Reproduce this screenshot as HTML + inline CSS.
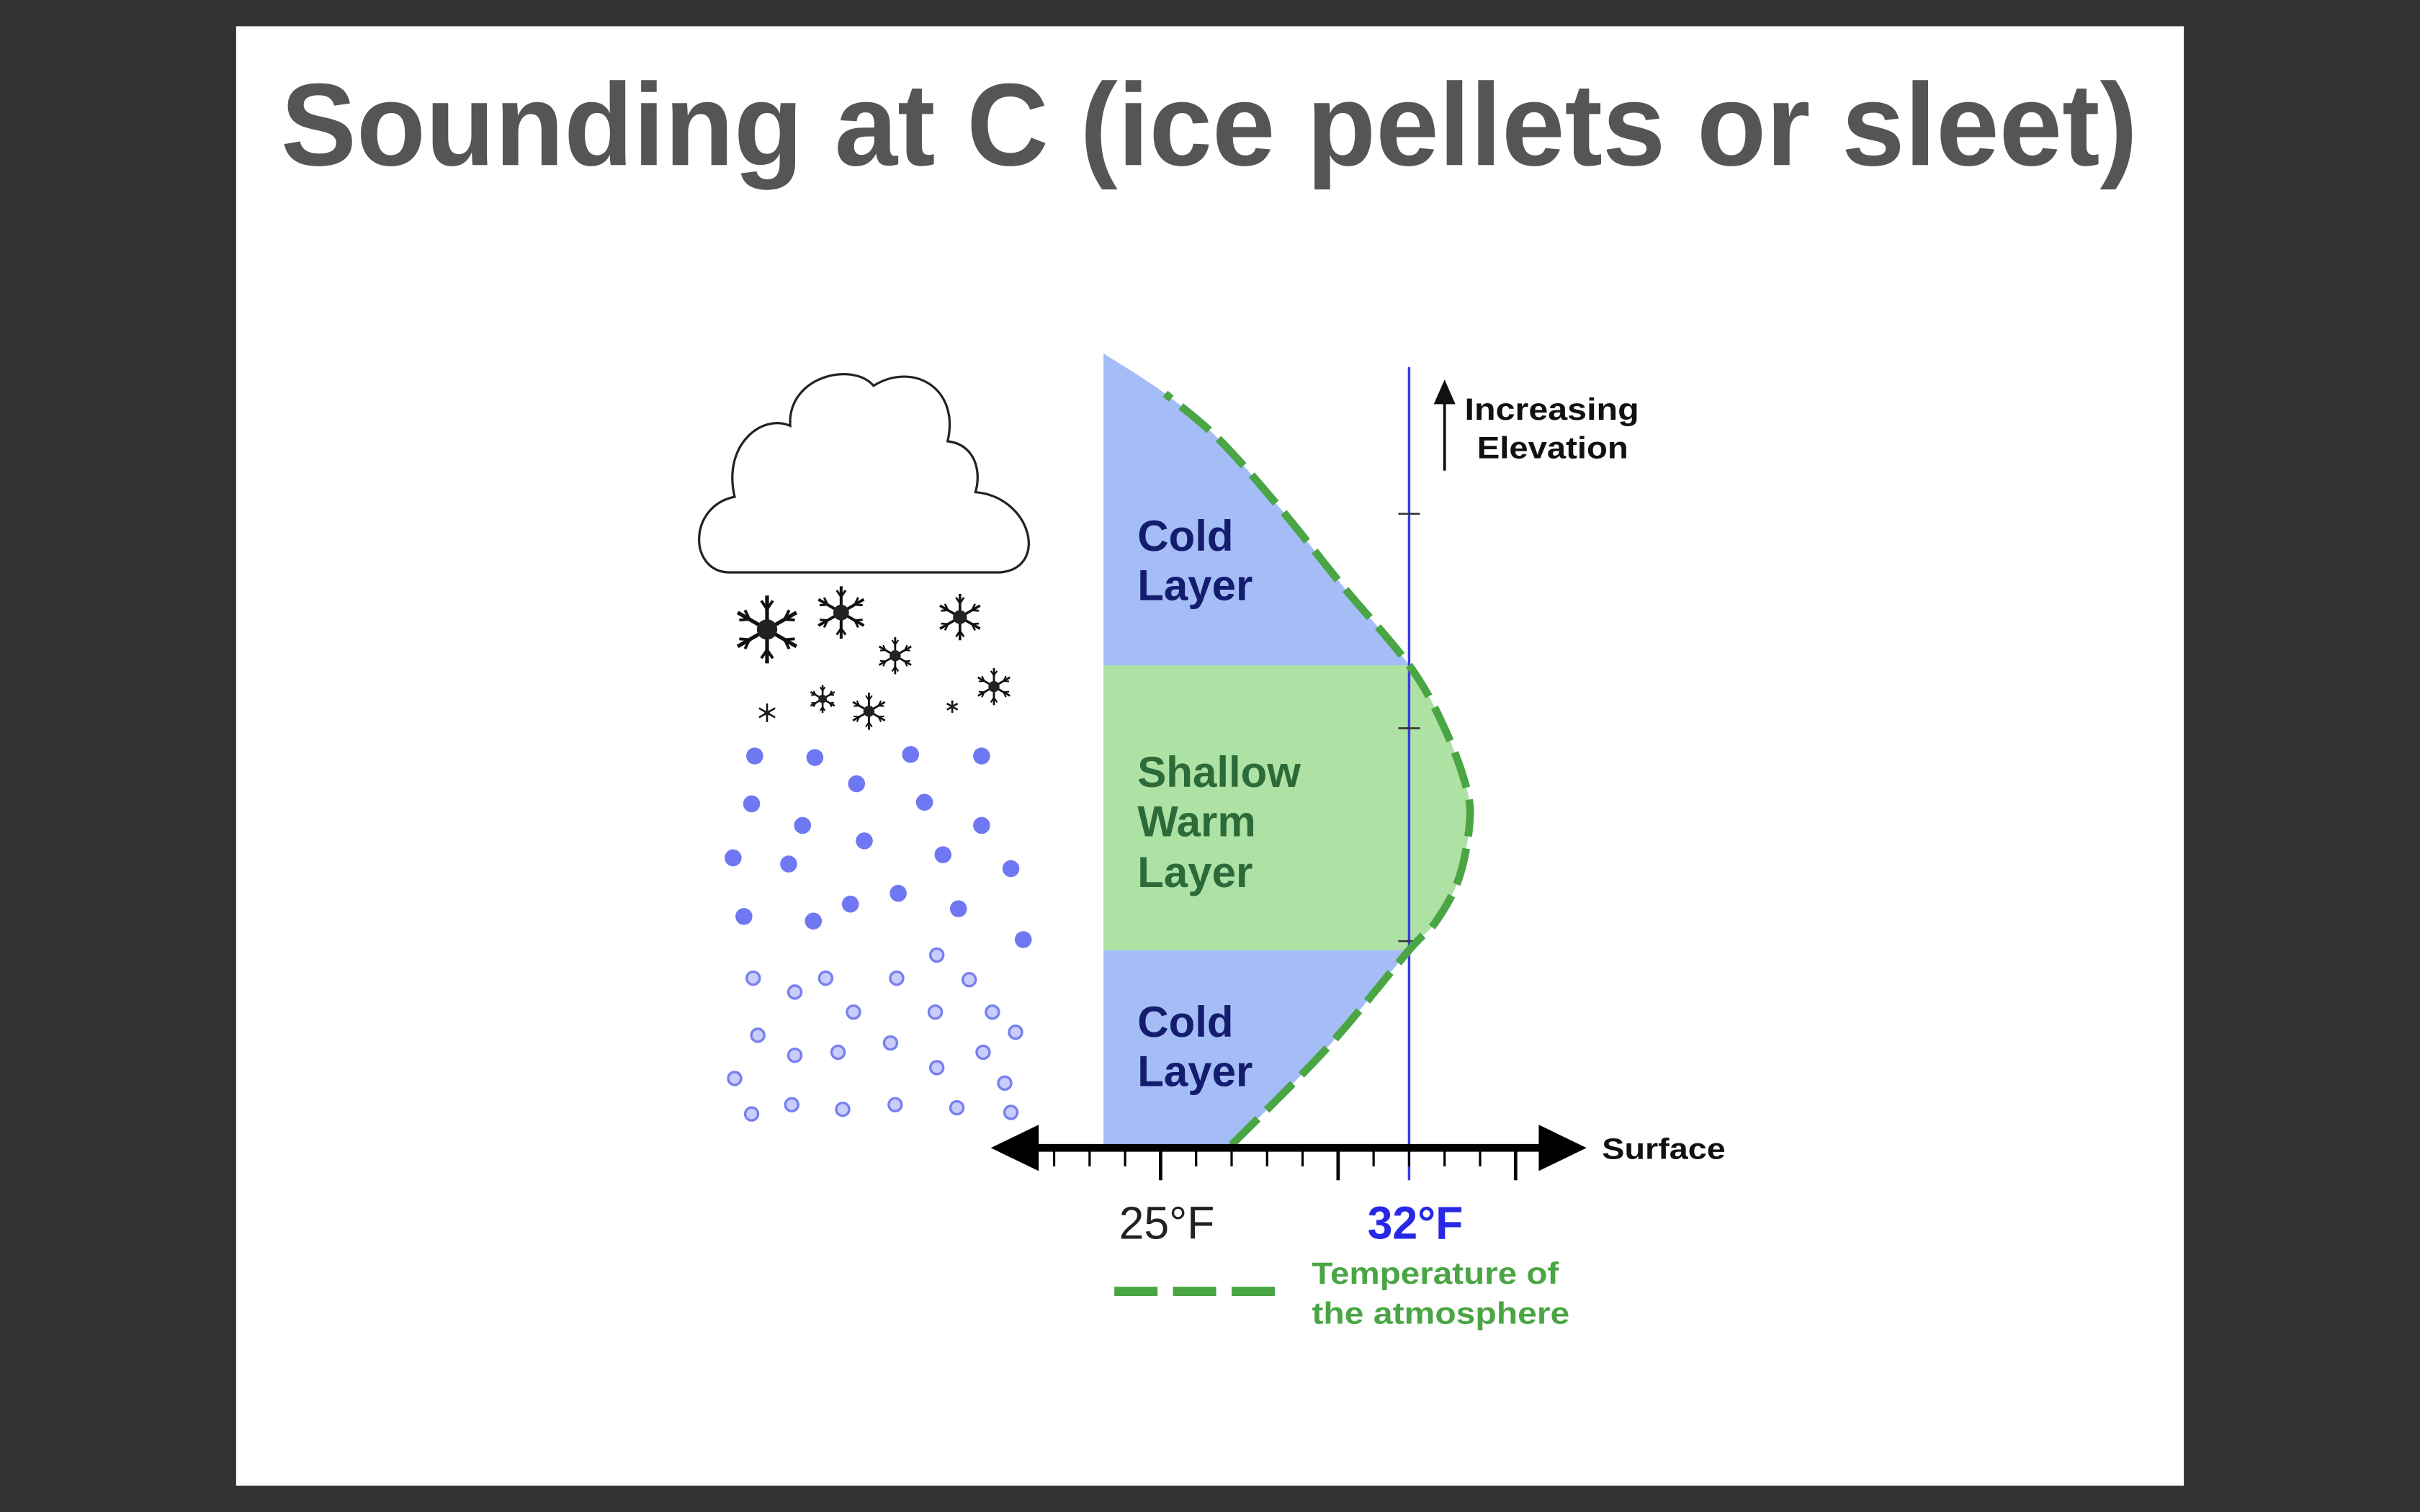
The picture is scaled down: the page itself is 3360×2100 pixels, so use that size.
<!DOCTYPE html>
<html><head><meta charset="utf-8"><style>
html,body{margin:0;padding:0;background:#333333;}
svg{display:block;}
text{font-family:"Liberation Sans",sans-serif;}
</style></head><body>
<svg id="chart" width="3360" height="2100" viewBox="0 0 1568 980" xmlns="http://www.w3.org/2000/svg">
<rect x="0" y="0" width="1568" height="980" fill="#333333"/>
<rect x="153" y="17" width="1262" height="946" fill="#ffffff"/>
<text x="182" y="107" font-size="76" font-weight="bold" fill="#555555" textLength="1203" lengthAdjust="spacingAndGlyphs">Sounding at C (ice pellets or sleet)</text>

<g>
<path d="M472,371 C446,370 446,328 476,322 C468,288 494,268 512,276 C510,244 552,234 566,250 C592,234 622,252 614,286 C632,288 636,306 632,319 C668,322 680,368 648,371 Z" fill="#fff" stroke="#222" stroke-width="1.5"/>
</g>
<g id="precip"></g>
<g id="plot"></g>

<g font-weight="bold" font-size="28">
<text x="737" y="357" fill="#141c6e">Cold</text>
<text x="737" y="389" fill="#141c6e">Layer</text>
<text x="737" y="510" fill="#2d6a3a">Shallow</text>
<text x="737" y="542" fill="#2d6a3a">Warm</text>
<text x="737" y="575" fill="#2d6a3a">Layer</text>
<text x="737" y="672" fill="#141c6e">Cold</text>
<text x="737" y="704" fill="#141c6e">Layer</text>
</g>

<g>
<line x1="936" y1="305" x2="936" y2="258" stroke="#111" stroke-width="1.8"/>
<polygon points="936,246 929,262 943,262" fill="#111"/>
<text x="949" y="272" font-size="20" font-weight="bold" fill="#111" textLength="113" lengthAdjust="spacingAndGlyphs">Increasing</text>
<text x="957" y="297" font-size="20" font-weight="bold" fill="#111" textLength="98" lengthAdjust="spacingAndGlyphs">Elevation</text>
</g>
<text x="1038" y="751" font-size="19" font-weight="bold" fill="#111" textLength="80" lengthAdjust="spacingAndGlyphs">Surface</text>

<g>
<line x1="722" y1="837" x2="828" y2="837" stroke="#4aa544" stroke-width="6" stroke-dasharray="28,10"/>
<text x="850" y="832" font-size="20" font-weight="bold" fill="#4aa544" textLength="160" lengthAdjust="spacingAndGlyphs">Temperature of</text>
<text x="850" y="858" font-size="20" font-weight="bold" fill="#4aa544" textLength="167" lengthAdjust="spacingAndGlyphs">the atmosphere</text>
</g>

<script>
// Temperature profile data (elevation units 0=surface..10=top, temperature °F)
const elevations = [0, 1.23, 2.46, 2.81, 3.35, 4.04, 4.52, 5.30, 6.06, 7.06, 8.03, 8.91, 9.49, 10];
const temperatures = [27.0, 29.7, 32.0, 32.74, 33.39, 33.70, 33.61, 32.96, 32.0, 30.13, 28.39, 26.65, 25.13, 23.39];
const warmLayerBottom = 2.46;
const warmLayerTop = 6.06;
const dashStartElev = 9.49;
const axisTicks = [22,23,24,25,26,27,28,29,30,31,32,33,34,35];
const majorTicks = [25, 30, 35];
const tickLabels = ["25°F", "32°F"];
const tickLabelValues = [25, 32];
const freezing = 32;

const NS = "http://www.w3.org/2000/svg";
const xT = t => 752 + (t - 25) * 23;
const yE = e => 742 - e * 51.3;
const leftX = 715;
const plot = document.getElementById('plot');
function mk(tag, attrs, parent) {
  const el = document.createElementNS(NS, tag);
  for (const k in attrs) el.setAttribute(k, attrs[k]);
  (parent || plot).appendChild(el);
  return el;
}
function smooth(pts) {
  let d = 'M' + pts[0][0] + ',' + pts[0][1];
  for (let i = 0; i < pts.length - 1; i++) {
    const p0 = pts[Math.max(0, i-1)], p1 = pts[i], p2 = pts[i+1], p3 = pts[Math.min(pts.length-1, i+2)];
    const c1 = [p1[0] + (p2[0]-p0[0])/6, p1[1] + (p2[1]-p0[1])/6];
    const c2 = [p2[0] - (p3[0]-p1[0])/6, p2[1] - (p3[1]-p1[1])/6];
    d += 'C' + c1.join(',') + ' ' + c2.join(',') + ' ' + p2.join(',');
  }
  return d;
}
const allPts = elevations.map((e, i) => [xT(temperatures[i]), yE(e)]);
const regionD = smooth(allPts) + 'L' + leftX + ',' + yE(elevations[elevations.length-1]) + 'L' + leftX + ',' + yE(0) + 'Z';

const defs = mk('defs', {});
const cp = mk('clipPath', {id: 'warmClip'}, defs);
mk('rect', {x: 700, y: yE(warmLayerTop), width: 400, height: yE(warmLayerBottom) - yE(warmLayerTop)}, cp);

const cold = mk('path', {d: regionD, fill: '#a5bdf6'});


const warm = mk('path', {d: regionD, fill: '#ade2a4', 'clip-path': 'url(#warmClip)'});



// freezing line
const fl = mk('line', {x1: xT(freezing), y1: 238, x2: xT(freezing), y2: 765, stroke: '#3a3ae8', 'stroke-width': 1.6});


[333, 472, 610].forEach(y => {
  const t = mk('line', {x1: xT(freezing) - 7, y1: y, x2: xT(freezing) + 7, y2: y, stroke: '#333', 'stroke-width': 1.2});
  
  
});

// temperature curve
const dashPts = elevations.map((e, i) => [xT(temperatures[i]), yE(e), e]).filter(p => p[2] <= dashStartElev).map(p => [p[0], p[1]]);
const curve = mk('path', {d: smooth(dashPts), fill: 'none', stroke: '#4aa544', 'stroke-width': 5, 'stroke-dasharray': '24,8', 'stroke-linejoin': 'round'});



// surface axis
const ax = mk('line', {x1: 665, y1: 744, x2: 1005, y2: 744, stroke: '#000', 'stroke-width': 5});


const la = mk('polygon', {points: '642,744 673,729 673,759', fill: '#000'});


const ra = mk('polygon', {points: '1028,744 997,729 997,759', fill: '#000'});


axisTicks.forEach(t => {
  const major = majorTicks.includes(t);
  const tk = mk('line', {x1: xT(t), y1: 744, x2: xT(t), y2: major ? 765 : 756, stroke: '#000', 'stroke-width': major ? 2.2 : 1.5});
  
  
});
tickLabels.forEach((lab, i) => {
  const isF = tickLabelValues[i] === freezing;
  const tx = mk('text', {x: xT(tickLabelValues[i]) - 27, y: 803, 'font-size': 30, 'font-weight': isF ? 'bold' : 'normal', fill: isF ? '#2828e6' : '#222', textLength: 62, lengthAdjust: 'spacingAndGlyphs'});
  tx.textContent = lab;
  
  
});

// precipitation decorations
const precip = document.getElementById('precip');
const flakes = [[497,408,22],[545,397,17],[622,400,15],[580,425,12],[644,445,12],[533,453,9],[563,461,12],[497,462,6],[617,458,4]];
flakes.forEach(f => {
  const g = mk('g', {}, precip);
  
  
  for (let k = 0; k < 6; k++) {
    const a = k * Math.PI / 3 + Math.PI / 2;
    const ca = Math.cos(a), sa = Math.sin(a);
    const ex = f[0] + ca * f[2], ey = f[1] + sa * f[2];
    mk('line', {x1: f[0], y1: f[1], x2: ex, y2: ey, stroke: '#111', 'stroke-width': Math.max(1.2, f[2]/9)}, g);
    if (f[2] > 8) {
      const mx = f[0] + ca * f[2] * 0.6, my = f[1] + sa * f[2] * 0.6, b = f[2] * 0.3;
      [0.6, -0.6].forEach(o => {
        const ba = a + o;
        mk('line', {x1: mx, y1: my, x2: mx + Math.cos(ba) * b, y2: my + Math.sin(ba) * b, stroke: '#111', 'stroke-width': Math.max(1, f[2]/12)}, g);
      });
    }
  }
  mk('circle', {cx: f[0], cy: f[1], r: f[2]*0.3, fill: '#222'}, g);
});
const pellets = [[489,490],[528,491],[590,489],[636,490],[487,521],[555,508],[599,520],[636,535],[520,535],[560,545],[475,556],[511,560],[611,554],[655,563],[482,594],[527,597],[551,586],[582,579],[621,589],[663,609]];
pellets.forEach(p => {
  const c = mk('circle', {cx: p[0], cy: p[1], r: 5.5, fill: '#6f78f2'}, precip);
  
  
});
const pellets2 = [[488,634],[515,643],[535,634],[581,634],[607,619],[628,635],[553,656],[606,656],[643,656],[658,669],[491,671],[515,684],[543,682],[577,676],[637,682],[476,699],[607,692],[651,702],[487,722],[513,716],[546,719],[580,716],[620,718],[655,721]];
pellets2.forEach(p => {
  const c = mk('circle', {cx: p[0], cy: p[1], r: 4.2, fill: '#c9cdfb', stroke: '#7780ee', 'stroke-width': 1.6}, precip);
  
  
});
</script>
</svg>
</body></html>
